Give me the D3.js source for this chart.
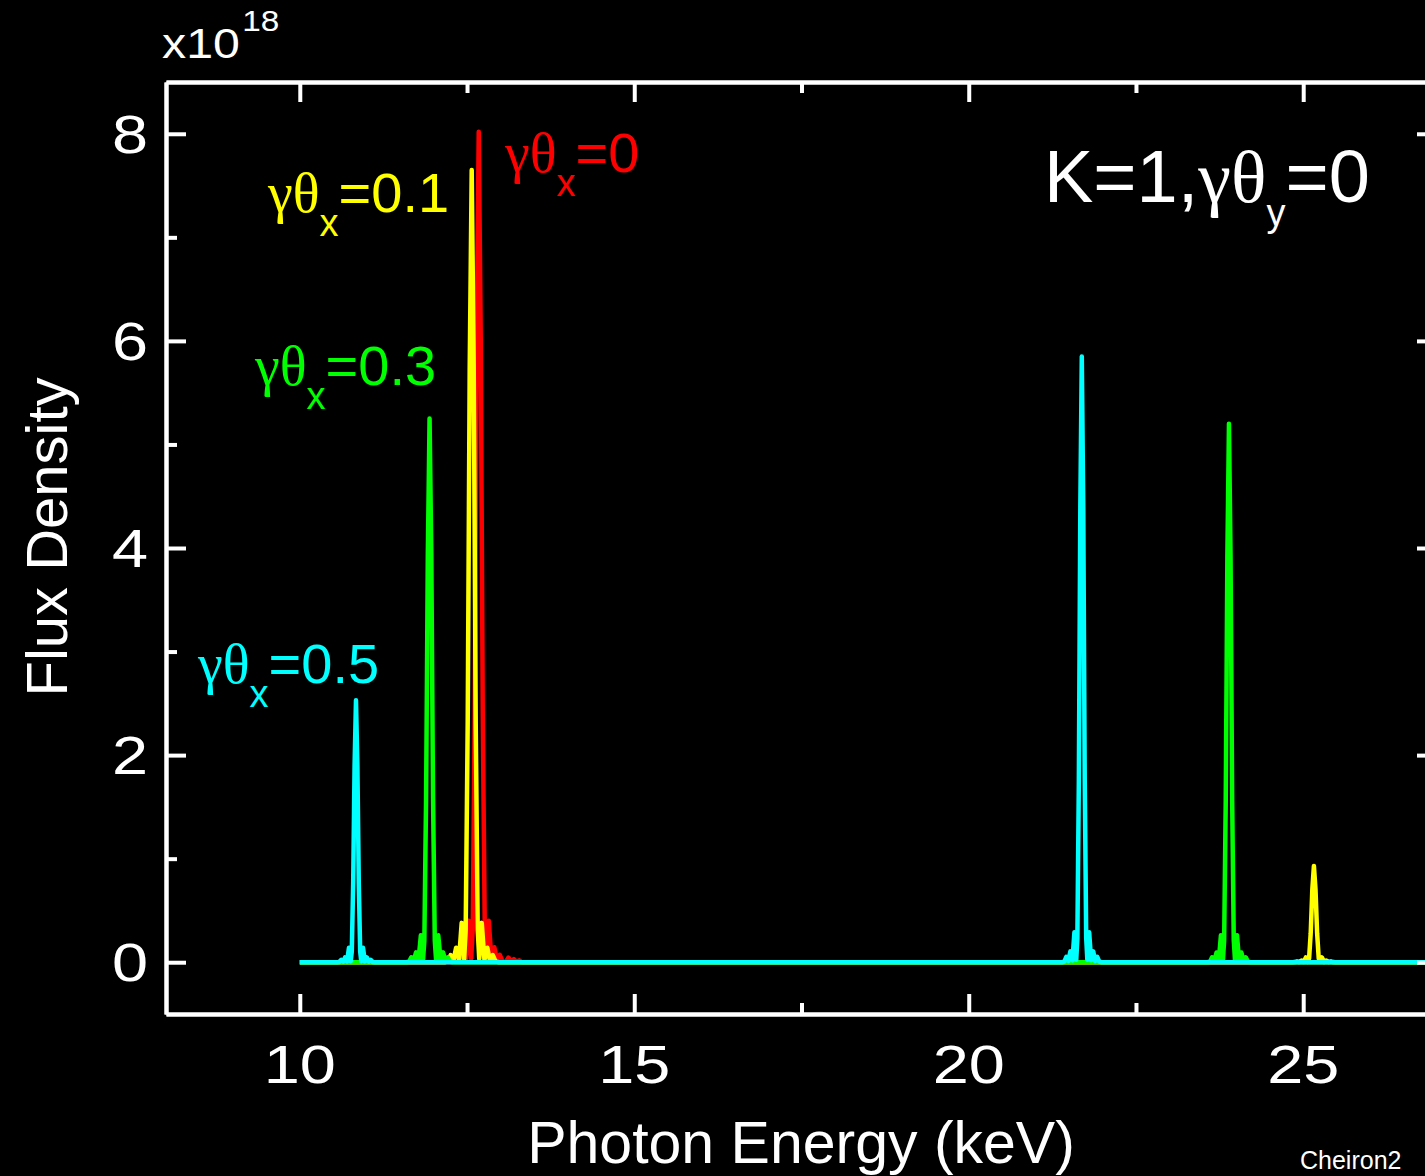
<!DOCTYPE html>
<html>
<head>
<meta charset="utf-8">
<script src="https://cdn.jsdelivr.net/npm/d3@7"></script>
<style>
html, body { margin: 0; padding: 0; background: #000; overflow: hidden; }
svg { display: block; }
text { font-family: "Liberation Sans", Arial, sans-serif; }
</style>
</head>
<body>
<script>
// axis ranges and ticks
var energyRange = [8, 27];
var fluxRange = [-0.5, 8.5];
var energyTicks = [10, 15, 20, 25];
var energyMinor = [12.5, 17.5, 22.5];
var fluxTicks = [0, 2, 4, 6, 8];
var fluxMinor = [1, 3, 5, 7];

// spectra, [photon energy (keV), flux density (x1e18)]
var redFlux = [[10, 0], [12.27, 0], [12.319, 0.008], [12.36, 0.072], [12.402, 0.016], [12.442, 0.144],
  [12.485, 0.024], [12.525, 0.40], [12.562, 0.032], [12.585, 0.32], [12.615, 2.41], [12.645, 6.02],
  [12.675, 8.02], [12.705, 6.02], [12.735, 2.41], [12.765, 0.32], [12.788, 0.032], [12.825, 0.40],
  [12.865, 0.024], [12.908, 0.144], [12.948, 0.016], [12.99, 0.072], [13.031, 0.008], [13.08, 0.004],
  [13.12, 0.045], [13.16, 0.004], [13.2, 0.03], [13.24, 0.003], [13.28, 0.018], [13.32, 0], [27, 0]];

var yellowFlux = [[10, 0], [12.165, 0], [12.214, 0.008], [12.255, 0.069], [12.297, 0.015], [12.337, 0.14],
  [12.38, 0.023], [12.42, 0.38], [12.457, 0.03], [12.48, 0.31], [12.51, 2.3], [12.54, 5.74],
  [12.57, 7.65], [12.60, 5.74], [12.63, 2.3], [12.66, 0.31], [12.683, 0.03], [12.72, 0.38],
  [12.76, 0.023], [12.803, 0.14], [12.843, 0.015], [12.885, 0.069], [12.926, 0.008], [12.975, 0],
  [24.836, 0], [24.876, 0.001], [24.908, 0.008], [24.942, 0.002], [24.974, 0.017], [25.008, 0.003],
  [25.04, 0.046], [25.07, 0.004], [25.088, 0.037], [25.112, 0.28], [25.136, 0.70], [25.16, 0.93],
  [25.184, 0.70], [25.208, 0.28], [25.232, 0.037], [25.25, 0.004], [25.28, 0.046], [25.312, 0.003],
  [25.346, 0.017], [25.378, 0.002], [25.412, 0.008], [25.444, 0.001], [25.484, 0], [27, 0]];

var greenFlux = [[10, 0], [11.589, 0], [11.632, 0.005], [11.667, 0.047], [11.703, 0.011], [11.738, 0.095],
  [11.775, 0.016], [11.81, 0.26], [11.842, 0.021], [11.862, 0.21], [11.888, 1.58], [11.914, 3.94],
  [11.94, 5.25], [11.966, 3.94], [11.992, 1.58], [12.018, 0.21], [12.038, 0.021], [12.07, 0.26],
  [12.105, 0.016], [12.142, 0.095], [12.177, 0.011], [12.213, 0.047], [12.248, 0.005], [12.291, 0],
  [23.566, 0], [23.606, 0.005], [23.638, 0.047], [23.672, 0.01], [23.704, 0.094], [23.738, 0.016],
  [23.77, 0.26], [23.8, 0.021], [23.818, 0.21], [23.842, 1.56], [23.866, 3.9], [23.89, 5.2],
  [23.914, 3.9], [23.938, 1.56], [23.962, 0.21], [23.98, 0.021], [24.01, 0.26], [24.042, 0.016],
  [24.076, 0.094], [24.108, 0.01], [24.142, 0.047], [24.174, 0.005], [24.214, 0], [27, 0]];

var cyanFlux = [[10, 0], [10.556, 0], [10.591, 0.003], [10.62, 0.023], [10.649, 0.005], [10.677, 0.046],
  [10.707, 0.008], [10.735, 0.14], [10.761, 0.01], [10.777, 0.10], [10.798, 0.76], [10.819, 1.90],
  [10.84, 2.53], [10.861, 1.90], [10.882, 0.76], [10.903, 0.10], [10.919, 0.01], [10.945, 0.14],
  [10.973, 0.008], [11.003, 0.046], [11.031, 0.005], [11.06, 0.023], [11.089, 0.003], [11.124, 0],
  [21.393, 0], [21.429, 0.006], [21.459, 0.053], [21.49, 0.012], [21.519, 0.105], [21.55, 0.018],
  [21.58, 0.29], [21.607, 0.023], [21.624, 0.23], [21.646, 1.76], [21.668, 4.39], [21.69, 5.85],
  [21.712, 4.39], [21.734, 1.76], [21.756, 0.23], [21.773, 0.023], [21.8, 0.29], [21.83, 0.018],
  [21.861, 0.105], [21.89, 0.012], [21.921, 0.053], [21.951, 0.006], [21.987, 0], [27, 0]];

// drawing order: red first, cyan last (on top)
var seriesData = [redFlux, yellowFlux, greenFlux, cyanFlux];
var seriesColors = ["#ff0000", "#ffff00", "#00ff00", "#00ffff"];
var seriesValues = ["0", "0.1", "0.3", "0.5"];

var w = 1460;
var h = 1176;
var plot = {left: 166, right: 1437, top: 82, bottom: 1014};

var svg = d3.select("body")
            .append("svg")
            .attr("width", w)
            .attr("height", h)
            .style("background", "#000");

var xScale = d3.scaleLinear().domain(energyRange).range([plot.left, plot.right]);
var yScale = d3.scaleLinear().domain(fluxRange).range([plot.bottom, plot.top]);

svg.append("clipPath")
   .attr("id", "plotclip")
   .append("rect")
   .attr("x", plot.left)
   .attr("y", plot.top)
   .attr("width", plot.right - plot.left)
   .attr("height", plot.bottom - plot.top);

// the spectra
var line = d3.line()
             .x(function(d) { return xScale(d[0]); })
             .y(function(d) { return yScale(d[1]); });

for (let i = 0; i < seriesData.length; i++){
  svg.append("path")
     .datum(seriesData[i])
     .attr("clip-path", "url(#plotclip)")
     .attr("d", line)
     .attr("fill", "none")
     .attr("stroke", seriesColors[i])
     .attr("stroke-width", 4.5)
     .attr("stroke-linejoin", "round");
}

// frame with inward ticks on all four sides
function frameAxis(axis, transform, ticks, size){
  var g = svg.append("g")
             .attr("transform", transform)
             .call(axis.tickValues(ticks).tickSize(-size).tickSizeOuter(0).tickFormat(""));
  g.selectAll("path, line").attr("stroke", "#fff").attr("stroke-width", 4);
  g.selectAll("text").remove();
}
frameAxis(d3.axisBottom(xScale), "translate(0," + plot.bottom + ")", energyTicks, 20);
frameAxis(d3.axisBottom(xScale), "translate(0," + plot.bottom + ")", energyMinor, 11);
frameAxis(d3.axisTop(xScale), "translate(0," + plot.top + ")", energyTicks, 20);
frameAxis(d3.axisTop(xScale), "translate(0," + plot.top + ")", energyMinor, 11);
frameAxis(d3.axisLeft(yScale), "translate(" + plot.left + ",0)", fluxTicks, 20);
frameAxis(d3.axisLeft(yScale), "translate(" + plot.left + ",0)", fluxMinor, 11);
frameAxis(d3.axisRight(yScale), "translate(" + plot.right + ",0)", fluxTicks, 20);
frameAxis(d3.axisRight(yScale), "translate(" + plot.right + ",0)", fluxMinor, 11);

// tick labels (digits drawn a bit wide like the original)
energyTicks.forEach(function(d){
  svg.append("g")
     .attr("transform", "translate(" + xScale(d) + ",1083) scale(1.2,1)")
     .append("text")
     .attr("text-anchor", "middle")
     .attr("font-size", 54)
     .attr("fill", "#fff")
     .text(d);
});
fluxTicks.forEach(function(d){
  svg.append("g")
     .attr("transform", "translate(148," + (yScale(d) + 19) + ") scale(1.2,1)")
     .append("text")
     .attr("text-anchor", "end")
     .attr("font-size", 54)
     .attr("fill", "#fff")
     .text(d);
});

// exponent
var expo = svg.append("g")
              .attr("transform", "translate(162,58) scale(1.15,1)")
              .append("text")
              .attr("fill", "#fff")
              .attr("font-size", 42);
expo.append("tspan").text("x10");
expo.append("tspan").attr("font-size", 29).attr("dy", -27).attr("dx", 2).text("18");

// axis titles
svg.append("text")
   .attr("transform", "translate(67,537) rotate(-90)")
   .attr("text-anchor", "middle")
   .attr("font-size", 58)
   .attr("fill", "#fff")
   .text("Flux Density");

svg.append("text")
   .attr("x", 801)
   .attr("y", 1163)
   .attr("text-anchor", "middle")
   .attr("font-size", 59)
   .attr("fill", "#fff")
   .text("Photon Energy (keV)");

// curve labels
var labelX = [505, 268, 255, 198];
var labelY = [172, 212, 385, 683];

function gammaLabel(x, y, color, size, prefix, sub, value){
  var t = svg.append("text")
             .attr("x", x)
             .attr("y", y)
             .attr("fill", color)
             .attr("font-size", size);
  if (prefix) t.append("tspan").text(prefix);
  t.append("tspan").style("font-family", "'Liberation Serif', 'Times New Roman', serif").text("γθ");
  t.append("tspan").attr("font-size", 38).attr("dy", 24).text(sub);
  t.append("tspan").attr("dy", -24).text("=" + value);
}

for (let i = 0; i < seriesValues.length; i++){
  gammaLabel(labelX[i], labelY[i], seriesColors[i], 56, "", "x", seriesValues[i]);
}
gammaLabel(1044, 202, "#fff", 74, "K=1,", "y", "0");

svg.append("text")
   .attr("x", 1300)
   .attr("y", 1169)
   .attr("font-size", 25)
   .attr("fill", "#fff")
   .text("Cheiron2");
</script>
</body>
</html>
